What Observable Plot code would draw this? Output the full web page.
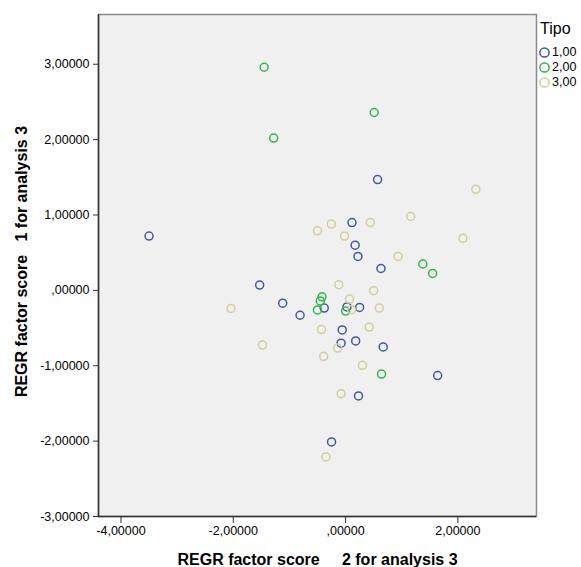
<!DOCTYPE html>
<html><head><meta charset="utf-8">
<script src="https://cdn.jsdelivr.net/npm/d3@7"></script>
<script src="https://cdn.jsdelivr.net/npm/@observablehq/plot@0.6"></script>
<style>
body{margin:0;background:#fff;font-family:"Liberation Sans",Arial,sans-serif;}
#wrap{position:relative;width:581px;height:567px;overflow:hidden;}
#legend{position:absolute;left:539px;top:20px;color:#000;white-space:nowrap;}
#legend .ttl{font-size:16px;line-height:18px;height:18px;margin-left:1px;margin-bottom:7px;}
#legend .row{font-size:12.5px;line-height:15.2px;height:15.2px;display:flex;align-items:center;}
#legend svg{margin-right:2px;}
</style></head><body><div id="wrap"></div>
<script>
const categories = ["1,00", "2,00", "3,00"];
const colors = ["#3E58AC", "#2EB848", "#D3CE97"];
const legendTitle = "Tipo";
const xTitle = "REGR factor score\u00a0\u00a0\u00a0\u00a0\u00a02 for analysis 3";
const yTitle = "REGR factor score\u00a0\u00a0\u00a01 for analysis 3";

const tipo1X = [0.57, -3.50, 0.114, 0.17, 0.22, 0.63, -1.53, -1.12, -0.38, 0.025, 0.25, -0.81, -0.06, -0.08, 0.18, 0.67, 1.64, 0.23, -0.25];
const tipo1Y = [1.47, 0.72, 0.90, 0.60, 0.45, 0.29, 0.07, -0.17, -0.235, -0.22, -0.226, -0.33, -0.525, -0.70, -0.67, -0.75, -1.13, -1.40, -2.01];
const tipo2X = [-1.45, 0.51, -1.28, 1.375, 1.55, -0.42, -0.45, -0.50, 0.0, 0.64];
const tipo2Y = [2.96, 2.36, 2.02, 0.35, 0.225, -0.085, -0.14, -0.26, -0.275, -1.11];
const tipo3X = [2.32, -0.50, -0.255, 0.44, 1.16, -0.02, 2.09, 0.935, -0.12, 0.50, 0.07, -2.04, 0.107, 0.60, -0.43, 0.42, -1.48, -0.14, -0.39, 0.30, -0.08, -0.35];
const tipo3Y = [1.34, 0.79, 0.88, 0.90, 0.98, 0.72, 0.69, 0.45, 0.075, -0.005, -0.115, -0.24, -0.257, -0.235, -0.52, -0.487, -0.725, -0.765, -0.875, -0.995, -1.37, -2.21];

const xTicks = [-4, -2, 0, 2];
const yTicks = [-3, -2, -1, 0, 1, 2, 3];
const xDomain = [-4.4, 3.4];
const yDomain = [-3, 3.66];

const fmt = v => v.toFixed(5).replace(".", ",").replace(/^(-?)0,/, "$1,");

const series = [[tipo1X, tipo1Y], [tipo2X, tipo2Y], [tipo3X, tipo3Y]];
const points = [];
series.forEach(([xs, ys], i) => xs.forEach((x, j) => points.push({x, y: ys[j], tipo: categories[i]})));

const chart = Plot.plot({
  width: 581, height: 567,
  marginLeft: 98, marginRight: 45, marginTop: 14, marginBottom: 51,
  style: {fontFamily: "'Liberation Sans', Arial, sans-serif", fontSize: "12px", background: "#fff", color: "#000"},
  x: {domain: xDomain},
  y: {domain: yDomain},
  color: {domain: categories, range: colors},
  marks: [
    Plot.frame({fill: "#f0f0f0", stroke: "#8a8a8a", strokeWidth: 1.5}),
    Plot.dot(points, {x: "x", y: "y", stroke: "tipo", r: 4, strokeWidth: 1.5, fill: "none"}),
    Plot.ruleX([xDomain[0]], {stroke: "#333", strokeWidth: 1.5}),
    Plot.ruleY([yDomain[0]], {stroke: "#333", strokeWidth: 1.5}),
    Plot.axisX(xTicks, {tickFormat: fmt, tickSize: 7, tickPadding: 3, stroke: "#333", label: null, fontSize: 12.5}),
    Plot.axisY(yTicks, {tickFormat: fmt, tickSize: 5, tickPadding: 4, stroke: "#333", label: null, fontSize: 12.5}),
    Plot.text([xTitle], {text: d => d, frameAnchor: "bottom", textAnchor: "middle", lineAnchor: "middle", dy: 43, fontWeight: "bold", fontSize: 16}),
    Plot.text([yTitle], {text: d => d, frameAnchor: "left", textAnchor: "middle", lineAnchor: "middle", dx: -77, dy: -4, rotate: -90, fontWeight: "bold", fontSize: 16})
  ]
});
const wrap = document.getElementById("wrap");
wrap.appendChild(chart);

const legend = document.createElement("div");
legend.id = "legend";
legend.innerHTML = `<div class="ttl">${legendTitle}</div>` + categories.map((c, i) =>
  `<div class="row"><svg width="11" height="11"><circle cx="5.5" cy="5.5" r="4.6" fill="none" stroke="${colors[i]}" stroke-width="1.5"/></svg>${c}</div>`).join("");
wrap.appendChild(legend);
</script></body></html>
